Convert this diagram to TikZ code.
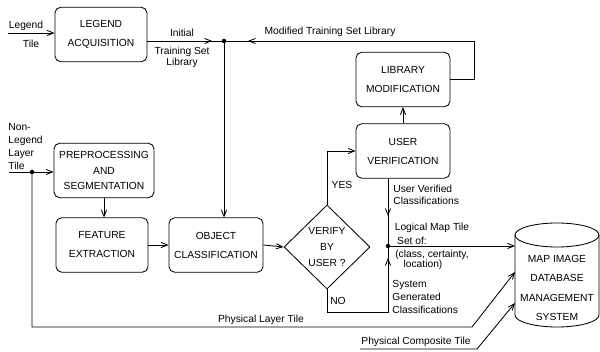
\documentclass[tikz,border=0pt]{standalone}
\usepackage{fontspec}
\setmainfont{Liberation Sans}
\usetikzlibrary{arrows.meta,shapes.geometric,decorations.markings}

\tikzset{
  blk/.style={draw,rounded corners=4pt,minimum width=2.35cm,minimum height=1.36cm,
    inner sep=1pt,align=center,font=\fontsize{7.3}{13.5}\selectfont,
    execute at begin node=\rule{0pt}{9.5pt}},
  lbl/.style={inner sep=0pt},
  midarrow/.style={postaction={decorate},decoration={markings,
    mark=at position #1 with {\arrow{Straight Barb[length=1.6mm,width=1.3mm]}}}}
}

\begin{document}
\begin{tikzpicture}[x=0.025cm,y=-0.025cm,line width=0.6pt,
  >={Straight Barb[length=1.6mm,width=1.3mm]},font=\fontsize{7.3}{8.5}\selectfont]
\useasboundingbox (0,0) rectangle (600,352);

\node[blk,minimum width=2.3cm] (acq) at (101,34.5) {LEGEND\\ACQUISITION};
\node[blk] (libmod) at (403,79.5) {LIBRARY\\MODIFICATION};
\node[blk] (userver) at (403,151) {USER\\VERIFICATION};
\node[blk,minimum width=2.5cm,font=\fontsize{7.3}{11}\selectfont] (prep) at (104,170.5) {PREPROCESSING\\AND\\SEGMENTATION};
\node[blk,minimum width=2.3cm] (feat) at (102,245) {FEATURE\\EXTRACTION};
\node[blk] (objcls) at (216,245) {OBJECT\\CLASSIFICATION};
\node[draw,diamond,minimum width=2.15cm,minimum height=2.1cm,inner sep=0pt,align=center,
  font=\fontsize{7.3}{11.3}\selectfont] (vfy) at (327,247) {VERIFY\\BY\\USER ?};

% database cylinder
\draw (515,235) -- (515,315) arc[start angle=180,end angle=360,x radius=1.05cm,y radius=0.3cm] -- (599,235);
\draw (557,235) ellipse[x radius=1.05cm,y radius=0.3cm];
\node[align=center,font=\fontsize{7.3}{13.7}\selectfont] (db) at (557,288) {MAP IMAGE\\DATABASE\\MANAGEMENT\\SYSTEM};

\coordinate (lt) at (8,33);
\coordinate (j) at (224,41);
\coordinate (mt) at (474,41);
\coordinate (lm) at (388,246);
\coordinate (sg) at (388,312);
\coordinate (nl) at (9,172);
\coordinate (pl) at (32,172);
\coordinate (plc) at (472,327);
\coordinate (pcs) at (360,349);
\coordinate (pcc) at (477,349);
\coordinate (dbm) at (515,246);
\coordinate (dbl) at (515,272);
\coordinate (dbc) at (515,303);

\draw[->] (lt) -- (lt -| acq.west);
\draw[midarrow=-0.3cm] (acq.east |- j) -- (j);
\draw[->] (j) -- (j |- objcls.north);
\draw[midarrow=-0.6cm] (libmod.east) -| (mt) -- (j);
\draw[->] (userver.north) -- (libmod.south);
\draw[->] (vfy.north) |- (userver.west);
\draw[midarrow=-0.75cm] (userver.south -| lm) -- (lm);
\draw[->] (lm) -- (dbm);
\draw[midarrow=-0.3cm] (vfy.south) |- (sg) -- (lm);
\draw[->] (objcls.east) -- (vfy.west);
\draw[->] (feat.east) -- (objcls.west);
\draw[->] (prep.south) -- (prep.south |- feat.north);
\draw[->] (nl) -- (nl -| prep.west);
\draw[->] (pl) |- (plc) -- (dbl);
\draw[->] (pcs) -- (pcc) -- (dbc);

\foreach \p in {j,lm,pl}
  \fill (\p) circle[radius=1.6pt];

\node[lbl] (lgd) at (26,26) {Legend};
\node[lbl] (lgdtile) at (31,44) {Tile};
\node[lbl] (init) at (182,33) {Initial};
\node[lbl,align=center,font=\fontsize{7.3}{8.3}\selectfont] (trset) at (182,57.5) {Training Set\\Library};
\node[lbl] (modlib) at (330,32) {Modified Training Set Library};
\node[lbl,anchor=west,align=left,font=\fontsize{7.3}{9.2}\selectfont] (nonleg) at (8,146.5) {Non-\\Legend\\Layer\\Tile};
\node[lbl] (yes) at (342,185) {YES};
\node[lbl,anchor=west,align=left,font=\fontsize{7.3}{8.5}\selectfont] (uvc) at (393,195) {User Verified\\Classifications};
\node[lbl] (lmt) at (432,228) {Logical Map Tile};
\node[lbl] (setof) at (412,241) {Set of:};
\node[lbl] (cls) at (432,255) {(class, certainty,};
\node[lbl] (loc) at (423,265) {location)};
\node[lbl,anchor=west,align=left,font=\fontsize{7.3}{9.2}\selectfont] (sgc) at (392,297) {System\\Generated\\Classifications};
\node[lbl] (no) at (338,301) {NO};
\node[lbl] (plt) at (261,320) {Physical Layer Tile};
\node[lbl] (pct) at (416,342) {Physical Composite Tile};
\end{tikzpicture}
\end{document}
